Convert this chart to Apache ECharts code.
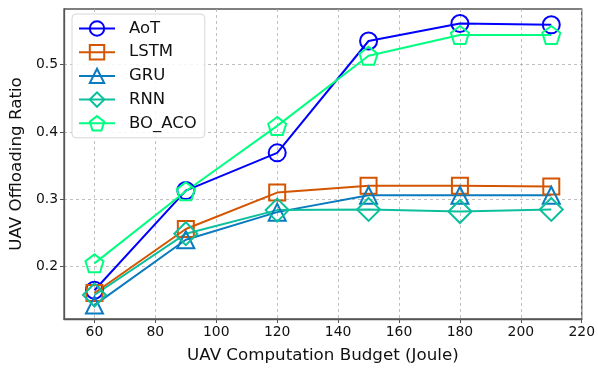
<!DOCTYPE html>
<html>
<head>
<meta charset="utf-8">
<script src="https://cdn.jsdelivr.net/npm/echarts@6/dist/echarts.min.js"></script>
<style>
  html, body { margin: 0; padding: 0; background: #fff; }
  #chart { width: 598px; height: 369px; }
</style>
</head>
<body>
<div id="chart"></div>
<script>
// Computation budget (Joule) on the x axis
const budgets = [60, 90, 120, 150, 180, 210];

// Offloading ratio per method
const aot   = [0.165, 0.313, 0.369, 0.535, 0.561, 0.559];
const lstm  = [0.161, 0.256, 0.310, 0.320, 0.320, 0.319];
const gru   = [0.143, 0.240, 0.281, 0.306, 0.306, 0.306];
const rnn   = [0.158, 0.249, 0.284, 0.285, 0.282, 0.285];
const boAco = [0.205, 0.312, 0.409, 0.513, 0.544, 0.544];

// Tick labels
const xTicks = [60, 80, 100, 120, 140, 160, 180, 200, 220];
const yTicks = [0.2, 0.3, 0.4, 0.5];

const FONT = 'DejaVu Sans';
const AXIS_COLOR = '#555';
const GRID_COLOR = '#b0b0b0';

const pentagon = 'path://M0,-1 L0.951,-0.309 L0.588,0.809 L-0.588,0.809 L-0.951,-0.309 Z';

function pairs(ys) {
  return budgets.map((x, i) => [x, ys[i]]);
}

function makeSeries(name, ys, color, symbol, size) {
  return {
    name: name,
    type: 'line',
    data: pairs(ys),
    symbol: symbol,
    symbolSize: size,
    showAllSymbol: true,
    lineStyle: { color: color, width: 2 },
    itemStyle: { color: 'rgba(255,255,255,0)', borderColor: color, borderWidth: 2 },
    emphasis: { disabled: true },
    animation: false,
    z: 3
  };
}

const chart = echarts.init(document.getElementById('chart'), null, { renderer: 'canvas' });

chart.setOption({
  backgroundColor: '#fff',
  animation: false,
  grid: {
    left: 64, right: 14, top: 9, bottom: 46,
    show: true,
    borderColor: AXIS_COLOR,
    borderWidth: 1.3,
    backgroundColor: 'transparent'
  },
  legend: {
    left: 72, top: 14,
    orient: 'vertical',
    itemWidth: 36,
    itemHeight: 18,
    itemGap: 6.7,
    padding: [6, 8, 6, 6],
    backgroundColor: 'rgba(255,255,255,0.85)',
    borderColor: '#d6d6d6',
    borderWidth: 1,
    borderRadius: 4,
    textStyle: { fontFamily: FONT, fontSize: 16.5, color: '#111', padding: [0, 0, 0, 9] },
    data: ['AoT', 'LSTM', 'GRU', 'RNN', 'BO_ACO']
  },
  xAxis: {
    type: 'value',
    min: 50,
    max: 220,
    name: 'UAV Computation Budget (Joule)',
    nameLocation: 'middle',
    nameGap: 28,
    nameTextStyle: { fontFamily: FONT, fontSize: 16.7, color: '#111' },
    axisLine: { show: true, lineStyle: { color: AXIS_COLOR, width: 1.3 } },
    axisTick: { show: true, length: 4, lineStyle: { color: AXIS_COLOR, width: 1 }, customValues: xTicks },
    axisLabel: { fontFamily: FONT, fontSize: 13.9, color: '#111', margin: 6, customValues: xTicks },
    splitLine: { show: true, lineStyle: { color: GRID_COLOR, type: [3, 3], width: 0.8 } }
  },
  yAxis: {
    type: 'value',
    min: 0.1224,
    max: 0.5825,
    name: 'UAV Offloading Ratio',
    nameLocation: 'middle',
    nameGap: 31,
    nameRotate: 90,
    nameTextStyle: { fontFamily: FONT, fontSize: 16.7, color: '#111' },
    axisLine: { show: true, lineStyle: { color: AXIS_COLOR, width: 1.3 } },
    axisTick: { show: true, length: 4, lineStyle: { color: AXIS_COLOR, width: 1 }, customValues: yTicks },
    axisLabel: { fontFamily: FONT, fontSize: 13.9, color: '#111', margin: 6, customValues: yTicks,
                 formatter: v => v.toFixed(1) },
    splitLine: { show: true, lineStyle: { color: GRID_COLOR, type: [3, 3], width: 0.8 } }
  },
  series: [
    makeSeries('AoT', aot, '#0000ff', 'circle', 17),
    makeSeries('LSTM', lstm, '#d45500', 'rect', 16),
    makeSeries('GRU', gru, '#0a7bbf', 'triangle', 17),
    makeSeries('RNN', rnn, '#0cbf9c', 'diamond', 23),
    makeSeries('BO_ACO', boAco, '#00ff80', pentagon, 18)
  ]
});
</script>
</body>
</html>
